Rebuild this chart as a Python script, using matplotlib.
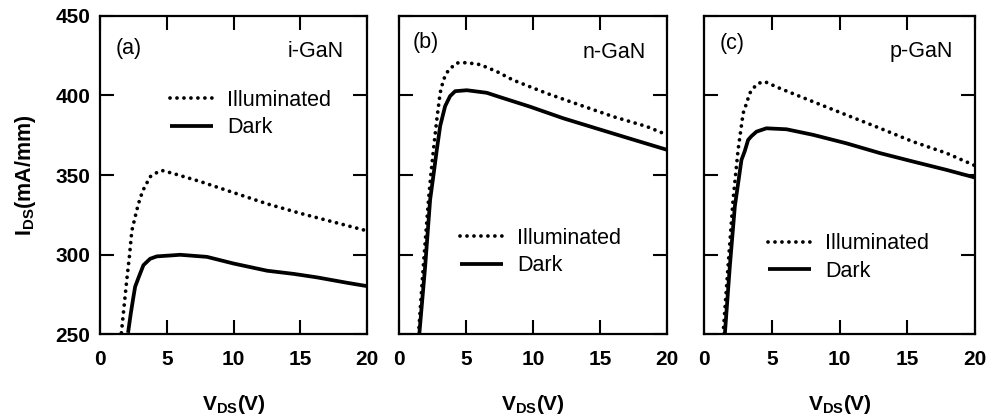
import matplotlib
matplotlib.use('Agg')
import matplotlib.pyplot as plt

plt.rcParams['font.family'] = ['Liberation Sans', 'DejaVu Sans']
plt.rcParams['mathtext.fontset'] = 'custom'
plt.rcParams['mathtext.rm'] = 'Liberation Sans'
plt.rcParams['mathtext.bf'] = 'Liberation Sans:bold'

# I-V curves, V_DS in V, I_DS in mA/mm
vds_a_ill = [1.6, 2.0, 2.2, 2.38, 2.75, 3.0, 3.25, 3.75, 4.25, 4.6, 5.5, 7.5, 10, 12.5, 15, 17.5, 20]
ids_a_ill = [251, 284, 299, 315, 328, 335.5, 341, 349, 351.6, 353, 351, 346, 339, 332, 326, 320.5, 315]
vds_a_dark = [2.1, 2.3, 2.5, 2.63, 2.9, 3.25, 3.75, 4.25, 5.5, 6, 8, 10, 12.5, 14.5, 16.25, 18.5, 20]
ids_a_dark = [251, 263, 273.5, 280, 286, 293.5, 297.5, 299, 299.7, 300, 298.7, 294.5, 290, 288, 285.8, 282.4, 280.3]

vds_b_ill = [1.44, 1.8, 2.19, 2.36, 2.56, 2.81, 3.06, 3.31, 3.68, 4.3, 5.05, 6.04, 7.3, 8.5, 11, 13.5, 16, 18.5, 20]
ids_b_ill = [250, 292.8, 334.6, 350, 366, 385, 401.7, 410, 416, 420.4, 420.6, 419.4, 415, 409.7, 401.4, 394, 386.7, 380.5, 375.3]
vds_b_dark = [1.5, 1.94, 2.31, 2.56, 2.81, 3.06, 3.43, 3.8, 4.18, 5.05, 6.54, 7.3, 9.76, 12.25, 14.7, 17.2, 20]
ids_b_dark = [250, 292.8, 334.6, 350, 366, 380.8, 393.3, 399.6, 402.7, 403.3, 401.7, 399.6, 393, 385.7, 379.4, 373, 365.9]

vds_c_ill = [1.4, 1.77, 2.14, 2.51, 2.88, 3.13, 3.37, 3.62, 3.99, 4.48, 5.59, 8.05, 10.5, 13, 15.4, 17.9, 20]
ids_c_ill = [250, 292.8, 334.6, 365.9, 388.8, 395, 401.4, 404.5, 407.6, 408.7, 404.5, 396.1, 387.8, 379.4, 371.1, 363.8, 356]
vds_c_dark = [1.53, 1.9, 2.27, 2.76, 3.0, 3.25, 3.5, 3.87, 4.6, 6.08, 8.05, 10.5, 13, 15.4, 17.9, 20]
ids_c_dark = [250, 292.8, 330.4, 359.6, 365, 372.1, 374.5, 377.3, 379.4, 378.8, 375.3, 370, 363.8, 358.6, 353.3, 348.5]

panel_tags = ['(a)', '(b)', '(c)']
materials = ['i-GaN', 'n-GaN', 'p-GaN']
x_ticks = [0, 5, 10, 15, 20]
y_ticks = [250, 300, 350, 400, 450]

fig = plt.figure(figsize=(10.03, 4.17), dpi=100)

# axes rectangles in figure fraction
rects = [
    [0.0997, 0.198, 0.2665, 0.764],
    [0.398, 0.198, 0.267, 0.764],
    [0.702, 0.198, 0.270, 0.764],
]
curves = [
    (vds_a_ill, ids_a_ill, vds_a_dark, ids_a_dark),
    (vds_b_ill, ids_b_ill, vds_b_dark, ids_b_dark),
    (vds_c_ill, ids_c_ill, vds_c_dark, ids_c_dark),
]
# legend anchor, tag position, material label position (axes coords)
legend_pos = [(0.262, 0.768), (0.228, 0.335), (0.236, 0.318)]
tag_pos = [(0.059, 0.898), (0.05, 0.915), (0.058, 0.912)]
mat_pos = [(0.912, 0.887), (0.92, 0.885), (0.92, 0.888)]

for i, rect in enumerate(rects):
    ax = fig.add_axes(rect)
    v_ill, i_ill, v_dark, i_dark = curves[i]
    ax.plot(v_ill, i_ill, color='black', lw=2.7, linestyle=(0, (0.01, 1.85)),
            dash_capstyle='round', label='Illuminated')
    ax.plot(v_dark, i_dark, color='black', lw=2.7, solid_capstyle='butt',
            solid_joinstyle='round', label='Dark')

    ax.set_xlim(0, 20)
    ax.set_ylim(250, 450)
    ax.set_xticks(x_ticks)
    ax.set_yticks(y_ticks)
    ax.tick_params(direction='in', length=10, width=1.5, top=True, right=True,
                   labelsize=15, pad=7)
    ax.tick_params(axis='x', pad=11)
    for lab in ax.get_xticklabels() + ax.get_yticklabels():
        lab.set_fontweight('bold')
    for sp in ax.spines.values():
        sp.set_linewidth(1.6)
    if i > 0:
        ax.set_yticklabels([])
    else:
        ax.set_ylabel(r'I$_{\mathbf{DS}}$(mA/mm)', fontsize=15.5, fontweight='bold')
        ax.yaxis.set_label_coords(-0.232, 0.5)

    ax.set_xlabel(r'V$_{\mathbf{DS}}$(V)', fontsize=15, fontweight='bold')
    ax.xaxis.set_label_coords(0.5, -0.185)

    ax.text(*tag_pos[i], panel_tags[i], transform=ax.transAxes, fontsize=15.5,
            ha='left', va='center')
    ax.text(*mat_pos[i], materials[i], transform=ax.transAxes, fontsize=15.5,
            ha='right', va='center')

    ax.legend(loc='upper left', bbox_to_anchor=legend_pos[i], frameon=False,
              borderpad=0, borderaxespad=0, handlelength=2.0, handletextpad=0.65,
              labelspacing=0.3, fontsize=15.5)

fig.savefig('out.png', dpi=100)
